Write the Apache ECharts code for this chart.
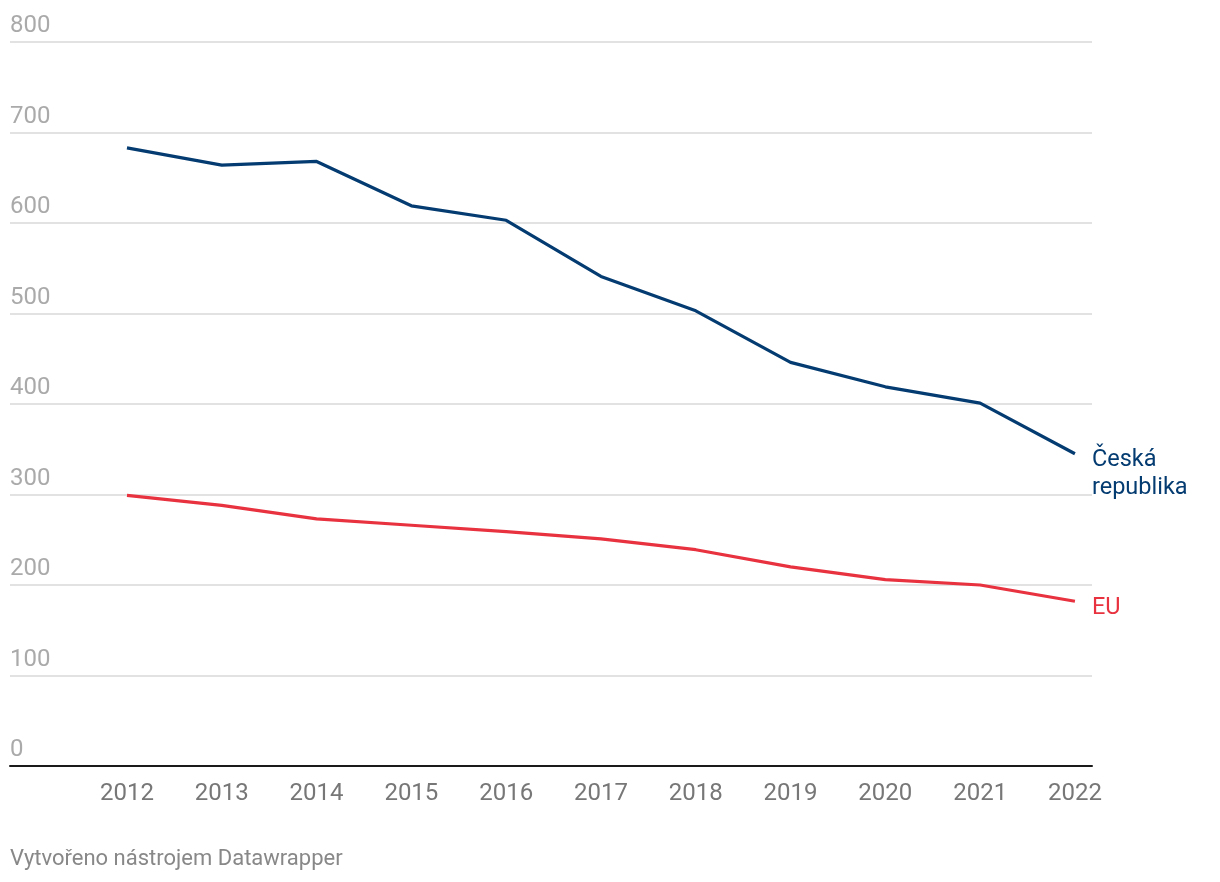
<!DOCTYPE html>
<html><head><meta charset="utf-8">
<script src="https://cdn.jsdelivr.net/npm/echarts@6/dist/echarts.min.js"></script>
<style>html,body{margin:0;padding:0;background:#fff}#c{width:1220px;height:882px}</style>
</head><body><div id="c"></div>
<script>
const years = [2012, 2013, 2014, 2015, 2016, 2017, 2018, 2019, 2020, 2021, 2022];
const czValues = [683, 664, 668, 619, 603, 541, 503, 446, 419, 401, 345];
const euValues = [299, 288, 273, 266, 259, 251, 239, 220, 206, 200, 182];
const seriesNames = ['Česká\nrepublika', 'EU'];
const yTicks = [0, 100, 200, 300, 400, 500, 600, 700, 800];
const footer = 'Vytvořeno nástrojem Datawrapper';

const chart = echarts.init(document.getElementById('c'), null, {renderer: 'canvas'});
const font = 'Roboto, sans-serif';
function mk(name, vals, color, off) {
  return {
    type: 'line', name: name, data: years.map((y, i) => [y, vals[i]]),
    symbol: 'none', lineStyle: {color: color, width: 3.2}, itemStyle: {color: color},
    endLabel: {show: true, formatter: name, color: color, fontFamily: font, fontSize: 23.5,
      lineHeight: 28, align: 'left', verticalAlign: 'middle', distance: 17, offset: [0, off]},
    animation: false
  };
}
chart.setOption({
  animation: false,
  grid: {left: 10, right: 128, top: 42, bottom: 116},
  xAxis: {
    type: 'value', min: 2010.766, max: 2022.18,
    axisLine: {show: true, lineStyle: {color: '#1a1a1a', width: 2}},
    axisTick: {show: false},
    splitLine: {show: false},
    axisLabel: {customValues: years, formatter: v => String(v), color: '#777', fontFamily: font, fontSize: 24, margin: 16}
  },
  yAxis: {
    type: 'value', min: 0, max: 800, interval: 100,
    axisLine: {show: false}, axisTick: {show: false},
    splitLine: {lineStyle: {color: '#e2e2e2', width: 2}},
    axisLabel: {inside: true, margin: 0, verticalAlign: 'bottom', padding: [0, 0, 4, 0],
      color: '#aaa', fontFamily: font, fontSize: 24,
      formatter: v => yTicks.includes(v) ? String(v) : ''}
  },
  graphic: [{type: 'text', left: 10, top: 848, style: {text: footer, fill: '#888', font: '22px Roboto, sans-serif'}}],
  series: [mk(seriesNames[0], czValues, '#043c71', 20), mk(seriesNames[1], euValues, '#e8323f', 7)]
});
</script></body></html>
